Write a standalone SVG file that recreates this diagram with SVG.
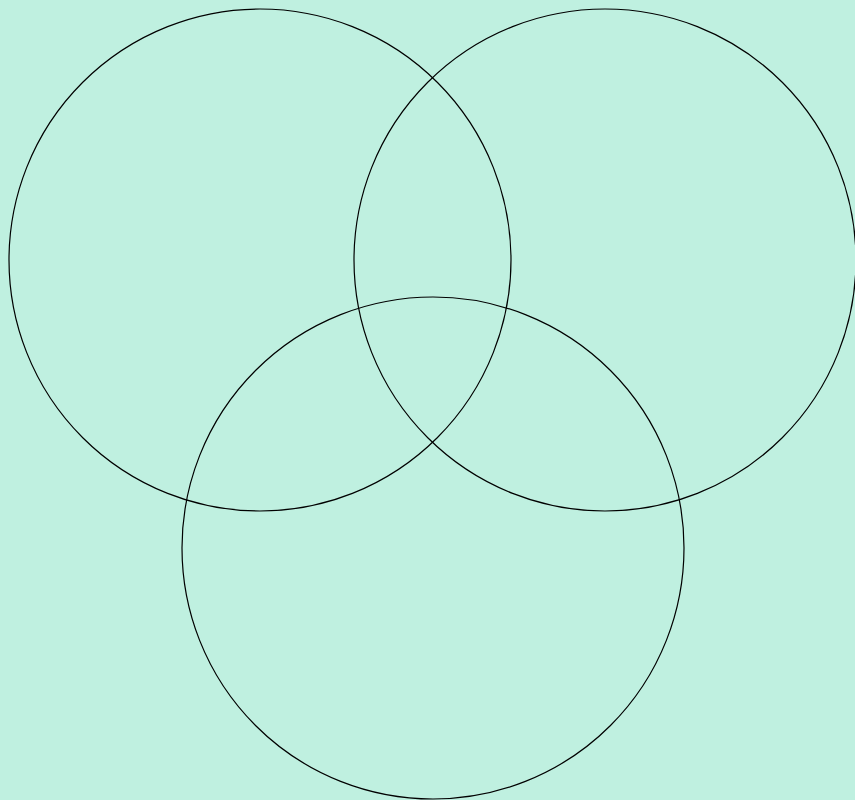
<svg xmlns="http://www.w3.org/2000/svg" width="855" height="800" viewBox="0 0 855 800">
<style>.c{fill:none;stroke:#000;stroke-width:1.2}</style>
<rect width="855" height="800" fill="#BFF0E0"/>
<g id="circle-a"><circle class="c" cx="260" cy="260" r="251"/></g>
<g id="circle-b"><circle class="c" cx="605" cy="260" r="251"/></g>
<g id="circle-c"><circle class="c" cx="433" cy="548" r="251"/></g>
</svg>
